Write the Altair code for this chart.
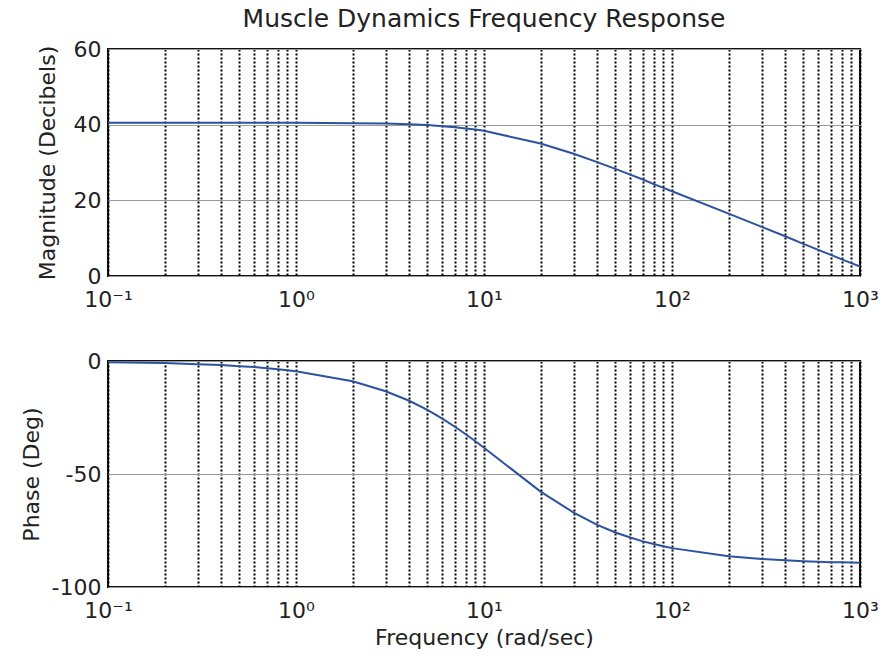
import altair as alt
import pandas as pd

# Frequencies (rad/sec) at which the response was sampled
freq = [0.1, 0.2, 0.3, 0.4, 0.5, 0.6, 0.7, 0.8, 0.9,
        1, 2, 3, 4, 5, 6, 7, 8, 9,
        10, 20, 30, 40, 50, 60, 70, 80, 90,
        100, 200, 300, 400, 500, 600, 700, 800, 900,
        1000]

# Magnitude (dB)
mag_db = [40.5, 40.5, 40.5, 40.5, 40.5, 40.5, 40.5, 40.5, 40.5,
          40.5, 40.4, 40.3, 40.1, 39.9, 39.6, 39.3, 39.0, 38.7,
          38.4, 35.0, 32.3, 30.1, 28.3, 26.8, 25.5, 24.3, 23.3,
          22.4, 16.5, 13.0, 10.5, 8.5, 6.9, 5.6, 4.4, 3.4,
          2.5]

# Phase (deg)
phase_deg = [-0.5, -0.9, -1.4, -1.8, -2.3, -2.7, -3.2, -3.6, -4.1,
             -4.5, -9.0, -13.4, -17.6, -21.6, -25.5, -29.1, -32.4, -35.5,
             -38.4, -57.8, -67.1, -72.5, -75.9, -78.1, -79.8, -81.0, -82.0,
             -82.8, -86.4, -87.6, -88.2, -88.6, -88.8, -89.0, -89.1, -89.2,
             -89.3]

# Log-grid positions (decades and their multiples)
grid_vals = [0.1, 0.2, 0.3, 0.4, 0.5, 0.6, 0.7, 0.8, 0.9,
             1, 2, 3, 4, 5, 6, 7, 8, 9,
             10, 20, 30, 40, 50, 60, 70, 80, 90,
             100, 200, 300, 400, 500, 600, 700, 800, 900, 1000]

mag_ticks = [0, 20, 40, 60]
phase_ticks = [-100, -50, 0]

df = pd.DataFrame({"freq": freq, "mag": mag_db, "phase": phase_deg})

FONT = "DejaVu Sans"
TXT = "#222222"
BLUE = "#2c52a0"

label_expr = ("datum.value == 0.1 ? '10\u207b\u00b9' : datum.value == 1 ? '10\u2070' : "
              "datum.value == 10 ? '10\u00b9' : datum.value == 100 ? '10\u00b2' : "
              "datum.value == 1000 ? '10\u00b3' : ''")


def x_enc(title, tpad):
    axis = alt.Axis(values=grid_vals, labelExpr=label_expr, grid=True, gridColor="#000000",
                    gridDash=[2, 2], gridWidth=2, ticks=False, domain=False,
                    labelOverlap=False, labelFlush=False, labelPadding=13,
                    labelFontSize=22, labelFont=FONT, labelColor=TXT,
                    titleFont=FONT, titleFontSize=22, titleFontWeight="normal",
                    titleColor=TXT, titlePadding=tpad, title=title if title else "")
    return alt.X("freq:Q", scale=alt.Scale(type="log", domain=[0.1, 1000], nice=False),
                 axis=axis)


def y_axis(title, values, tpad):
    return alt.Axis(title=title, values=values, grid=True, gridColor="#9a9a9a",
                    gridWidth=1, ticks=False, domain=False, labelPadding=7,
                    labelExpr="'' + datum.value",
                    labelFontSize=22, labelFont=FONT, labelColor=TXT,
                    titleFont=FONT, titleFontSize=22, titleFontWeight="normal",
                    titleColor=TXT, titlePadding=tpad)


top = alt.Chart(df).mark_line(color=BLUE, strokeWidth=2).encode(
    x=x_enc(None, 0),
    y=alt.Y("mag:Q", scale=alt.Scale(domain=[0, 60], nice=False),
            axis=y_axis("Magnitude (Decibels)", mag_ticks, 14)),
).properties(
    width=752, height=227,
    title=alt.Title("Muscle Dynamics Frequency Response", font=FONT, fontSize=25,
                    fontWeight="normal", color=TXT, anchor="middle", offset=6),
)

bottom = alt.Chart(df).mark_line(color=BLUE, strokeWidth=2).encode(
    x=x_enc("Frequency (rad/sec)", 6),
    y=alt.Y("phase:Q", scale=alt.Scale(domain=[-100, 0], nice=False),
            axis=y_axis("Phase (Deg)", phase_ticks, 8)),
).properties(width=752, height=226)

chart = alt.vconcat(top, bottom, spacing=38).properties(
    padding={"left": 19, "top": 6, "right": 0, "bottom": 0},
    background="white",
).configure_view(stroke="#111111", strokeWidth=2)

chart.save("out.html", embed_options={"renderer": "svg", "actions": False})
